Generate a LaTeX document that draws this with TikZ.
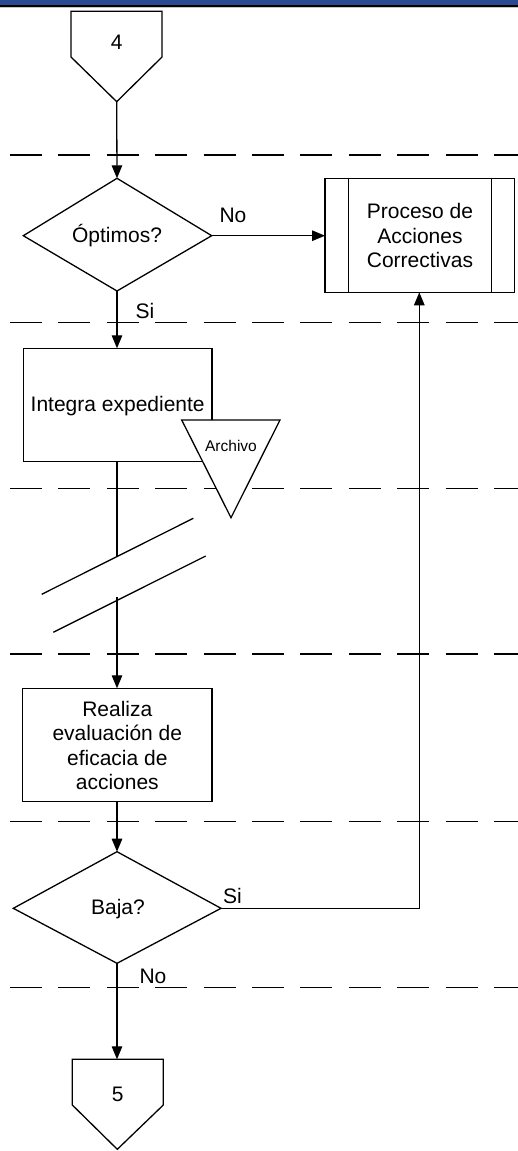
\documentclass[tikz,border=0pt]{standalone}
\usepackage{fontspec}
\setmainfont{Liberation Sans}
\usetikzlibrary{arrows.meta}
\definecolor{bandblue}{HTML}{2A4A94}
\begin{document}
\begin{tikzpicture}[x=1pt,y=-1pt,
  outline/.style={draw=black, line width=1.3pt, line join=miter, fill=white},
  lane/.style={draw=black, line width=1.3pt, dash pattern=on 32pt off 16.4pt},
  wire/.style={draw=black, line width=1.3pt},
  flow/.style={draw=black, line width=1.3pt, -{Triangle[length=13pt,width=10.5pt]}},
  txt/.style={font=\fontsize{21}{24.5}\selectfont, align=center, inner sep=0pt},
  smalltxt/.style={font=\fontsize{15.5}{18}\selectfont, inner sep=0pt},
]
\useasboundingbox (0,0) rectangle (518,1151);

% header band
\fill[bandblue] (0,0) rectangle (518,5.4);
\fill[black] (0,5.4) rectangle (518,7.4);
\fill[gray!45] (0,7.4) rectangle (518,8.2);

% swimlane separators
\foreach \y in {155,322.7,488.3,654,821.7,987.3}
  \draw[lane] (10,\y) -- (518,\y);

% off-page connector 4
\draw[outline] (71,11.3) -- (162,11.3) -- (162,57) -- (116.7,101.7) -- (71,57) -- cycle;
\node[txt] (c4) at (116.7,42) {4};
\coordinate (c4tip) at (116.7,101.7);

% decision: Optimos?
\draw[outline] (117,178.3) -- (211.7,235.7) -- (117,291) -- (23.3,235.7) -- cycle;
\node[txt] (opt) at (117,235.7) {Óptimos?};
\coordinate (optT) at (117,178.3);
\coordinate (optR) at (211.7,235.7);
\coordinate (optB) at (117,291);

% predefined process
\draw[outline] (325,178.3) rectangle (514.3,292.3);
\draw[wire] (348.3,178.3) -- (348.3,292.3);
\draw[wire] (491.7,178.3) -- (491.7,292.3);
\node[txt] (pac) at (420,235.5) {Proceso de\\Acciones\\Correctivas};
\coordinate (pacL) at (325,235.7);
\coordinate (pacB) at (419.3,292.3);

% process: Integra expediente
\draw[outline] (23.3,348.3) rectangle (212,461.7);
\node[txt] (int) at (117.7,406) {Integra expediente};
\coordinate (intT) at (117,348.3);
\coordinate (intB) at (117,461.7);

% archive
\draw[outline] (181.7,420) -- (280,420) -- (231,517.7) -- cycle;
\node[smalltxt] (arc) at (231,446) {Archivo};

% break marks
\coordinate (brkA) at (117,556);
\coordinate (brkB) at (117,597.3);
\draw[wire] (41.7,594.3) -- (193.3,518.3);
\draw[wire] (53.3,632.3) -- (205.7,556);

% process: Realiza evaluacion
\draw[outline] (22.7,688.3) rectangle (212,801.7);
\node[txt] (eva) at (117.3,745.5) {Realiza\\evaluación de\\eficacia de\\acciones};
\coordinate (evaT) at (117,688.3);
\coordinate (evaB) at (117,801.7);

% decision: Baja?
\draw[outline] (117,851.7) -- (221,908.3) -- (117,963.3) -- (13.3,908.3) -- cycle;
\node[txt] (baja) at (118,909) {Baja?};
\coordinate (bajT) at (117,851.7);
\coordinate (bajR) at (221,908.3);
\coordinate (bajB) at (117,963.3);
\coordinate (turn) at (419.3,908.3);

% off-page connector 5
\draw[outline] (72.3,1059.3) -- (163.3,1059.3) -- (163.3,1105) -- (117.3,1149.3) -- (72.3,1105) -- cycle;
\node[txt] (c5) at (117.8,1094) {5};
\coordinate (c5T) at (117,1059.3);

% connectors
\draw[flow] (c4tip) -- (optT);
\draw[flow] (optR) -- (pacL);
\draw[flow] (optB) -- (intT);
\draw[wire] (intB) -- (brkA);
\draw[flow] (brkB) -- (evaT);
\draw[flow] (evaB) -- (bajT);
\draw[flow] (bajR) -- (turn) -- (pacB);
\draw[flow] (bajB) -- (c5T);

% branch labels
\node[txt] (lno1) at (233,215) {No};
\node[txt] (lsi1) at (145,310.5) {Si};
\node[txt] (lsi2) at (232.5,896) {Si};
\node[txt] (lno2) at (153,976.5) {No};
\end{tikzpicture}
\end{document}
